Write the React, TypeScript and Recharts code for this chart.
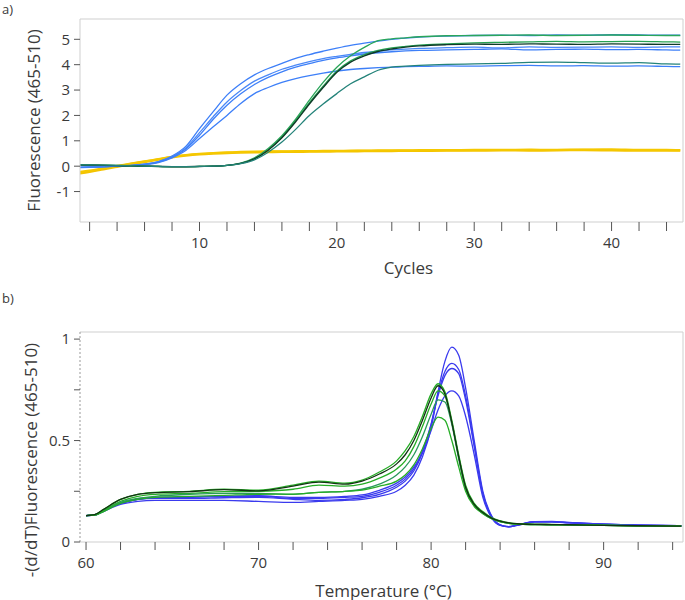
import React from 'react';
import { LineChart, Line, XAxis, YAxis, ReferenceLine } from 'recharts';

// ---------- Panel a: amplification ----------
const cycles = [1, 2, 3, 4, 5, 6, 7, 8, 9, 10, 11, 12, 13, 14, 15, 16, 17, 18, 19, 20, 21, 22, 23, 24, 25, 26, 28, 30, 32, 34, 36, 38, 40, 42, 44, 45];
const ampBlue1 = [-0.06, -0.05, -0.03, 0.0, 0.03, 0.08, 0.18, 0.4, 0.78, 1.48, 2.15, 2.8, 3.25, 3.6, 3.85, 4.05, 4.25, 4.4, 4.53, 4.65, 4.76, 4.85, 4.93, 5.0, 5.05, 5.09, 5.13, 5.15, 5.16, 5.15, 5.17, 5.16, 5.18, 5.17, 5.16, 5.16];
const ampBlue2 = [-0.05, -0.04, -0.02, 0.0, 0.03, 0.08, 0.17, 0.38, 0.72, 1.32, 1.95, 2.53, 2.98, 3.35, 3.6, 3.82, 3.98, 4.12, 4.24, 4.33, 4.41, 4.48, 4.53, 4.58, 4.61, 4.64, 4.67, 4.69, 4.66, 4.7, 4.68, 4.69, 4.7, 4.68, 4.7, 4.7];
const ampBlue3 = [-0.05, -0.04, -0.02, 0.0, 0.02, 0.07, 0.16, 0.36, 0.68, 1.22, 1.85, 2.4, 2.85, 3.22, 3.5, 3.72, 3.9, 4.04, 4.17, 4.27, 4.35, 4.42, 4.47, 4.51, 4.54, 4.56, 4.58, 4.6, 4.62, 4.58, 4.6, 4.61, 4.59, 4.6, 4.58, 4.57];
const ampBlue4 = [-0.04, -0.03, -0.02, 0.0, 0.02, 0.06, 0.14, 0.33, 0.62, 1.09, 1.55, 2.0, 2.47, 2.86, 3.1, 3.3, 3.45, 3.57, 3.67, 3.75, 3.81, 3.85, 3.88, 3.9, 3.92, 3.93, 3.95, 3.94, 3.96, 3.97, 3.95, 3.96, 3.94, 3.95, 3.93, 3.92];
const ampGreen1 = [0.05, 0.05, 0.04, 0.03, 0.02, 0.0, -0.01, -0.02, -0.02, -0.01, 0.0, 0.03, 0.12, 0.33, 0.7, 1.2, 1.85, 2.6, 3.3, 3.9, 4.35, 4.68, 4.95, 5.02, 5.06, 5.1, 5.14, 5.15, 5.16, 5.17, 5.15, 5.16, 5.17, 5.16, 5.15, 5.15];
const ampGreen2 = [0.04, 0.04, 0.03, 0.02, 0.01, 0.0, -0.01, -0.02, -0.02, -0.01, 0.0, 0.03, 0.11, 0.3, 0.65, 1.15, 1.8, 2.5, 3.15, 3.75, 4.15, 4.4, 4.56, 4.66, 4.72, 4.77, 4.82, 4.86, 4.88, 4.9, 4.92, 4.9, 4.91, 4.92, 4.9, 4.89];
const ampDark = [0.04, 0.04, 0.03, 0.02, 0.01, 0.0, -0.01, -0.02, -0.02, -0.01, 0.0, 0.03, 0.11, 0.29, 0.63, 1.12, 1.75, 2.45, 3.1, 3.7, 4.1, 4.35, 4.52, 4.62, 4.69, 4.74, 4.79, 4.81, 4.8, 4.82, 4.81, 4.8, 4.82, 4.81, 4.8, 4.8];
const ampTeal = [0.05, 0.05, 0.04, 0.03, 0.02, 0.0, -0.01, -0.02, -0.02, -0.01, 0.0, 0.03, 0.1, 0.25, 0.55, 0.95, 1.45, 2.0, 2.45, 2.86, 3.25, 3.52, 3.78, 3.9, 3.94, 3.97, 4.01, 4.03, 4.05, 4.09, 4.1, 4.08, 4.06, 4.08, 4.03, 4.02];
const ampYellow1 = [-0.3, -0.22, -0.12, -0.02, 0.08, 0.17, 0.26, 0.35, 0.42, 0.47, 0.5, 0.52, 0.54, 0.55, 0.56, 0.57, 0.57, 0.58, 0.58, 0.59, 0.59, 0.6, 0.6, 0.6, 0.61, 0.61, 0.62, 0.62, 0.63, 0.62, 0.63, 0.64, 0.63, 0.62, 0.62, 0.62];
const ampYellow2 = [-0.24, -0.17, -0.08, 0.01, 0.1, 0.19, 0.28, 0.37, 0.44, 0.49, 0.52, 0.54, 0.56, 0.57, 0.58, 0.58, 0.59, 0.59, 0.6, 0.6, 0.61, 0.61, 0.62, 0.62, 0.62, 0.63, 0.63, 0.64, 0.64, 0.65, 0.64, 0.65, 0.66, 0.64, 0.64, 0.63];
const ampXTicks = [2, 4, 6, 8, 10, 12, 14, 16, 18, 20, 22, 24, 26, 28, 30, 32, 34, 36, 38, 40, 42, 44];
const ampXLabels = [10, 20, 30, 40];
const ampYTicks = [-1, 0, 1, 2, 3, 4, 5];

// ---------- Panel b: melt ----------
const temps = [60, 60.5, 61, 62, 63, 64, 66, 68, 70, 72, 73.5, 75, 76, 77, 78, 78.5, 79, 79.5, 80, 80.4, 80.8, 81.2, 81.6, 82, 82.5, 83, 83.5, 84, 84.5, 85, 86, 87, 88, 90, 92, 94.5];
const meltGreen1 = [0.13, 0.135, 0.16, 0.21, 0.235, 0.245, 0.25, 0.26, 0.255, 0.28, 0.3, 0.29, 0.305, 0.345, 0.4, 0.45, 0.52, 0.62, 0.73, 0.78, 0.74, 0.6, 0.43, 0.28, 0.19, 0.15, 0.12, 0.105, 0.095, 0.09, 0.088, 0.087, 0.085, 0.083, 0.08, 0.078];
const meltBlack = [0.13, 0.135, 0.16, 0.21, 0.235, 0.243, 0.248, 0.258, 0.252, 0.275, 0.295, 0.285, 0.3, 0.335, 0.385, 0.43, 0.5, 0.6, 0.71, 0.77, 0.73, 0.59, 0.42, 0.27, 0.185, 0.145, 0.118, 0.103, 0.094, 0.09, 0.087, 0.086, 0.085, 0.082, 0.08, 0.078];
const meltGreen2 = [0.13, 0.133, 0.155, 0.2, 0.225, 0.235, 0.24, 0.248, 0.25, 0.26, 0.28, 0.275, 0.285, 0.315, 0.36, 0.4, 0.47, 0.57, 0.68, 0.745, 0.72, 0.59, 0.42, 0.27, 0.185, 0.145, 0.118, 0.1, 0.092, 0.088, 0.086, 0.085, 0.084, 0.082, 0.08, 0.078];
const meltGreen3 = [0.13, 0.133, 0.15, 0.195, 0.215, 0.225, 0.235, 0.24, 0.24, 0.235, 0.245, 0.25, 0.26, 0.285, 0.33, 0.37, 0.43, 0.52, 0.63, 0.7, 0.69, 0.58, 0.41, 0.26, 0.18, 0.14, 0.115, 0.1, 0.092, 0.088, 0.086, 0.085, 0.084, 0.082, 0.08, 0.078];
const meltGreen4 = [0.13, 0.132, 0.15, 0.19, 0.21, 0.22, 0.225, 0.23, 0.235, 0.236, 0.245, 0.25, 0.256, 0.275, 0.3, 0.33, 0.38, 0.46, 0.56, 0.615, 0.6, 0.5, 0.37, 0.25, 0.175, 0.14, 0.115, 0.1, 0.092, 0.088, 0.086, 0.085, 0.084, 0.082, 0.08, 0.078];
const meltBlue1 = [0.13, 0.132, 0.15, 0.185, 0.2, 0.205, 0.205, 0.205, 0.2, 0.195, 0.2, 0.205, 0.21, 0.225, 0.25, 0.28, 0.33, 0.42, 0.56, 0.74, 0.89, 0.96, 0.92, 0.76, 0.5, 0.25, 0.13, 0.085, 0.075, 0.082, 0.1, 0.102, 0.096, 0.088, 0.083, 0.08];
const meltBlue2 = [0.13, 0.133, 0.155, 0.19, 0.21, 0.215, 0.215, 0.218, 0.22, 0.21, 0.205, 0.21, 0.218, 0.235, 0.27, 0.3, 0.35, 0.44, 0.58, 0.73, 0.84, 0.88, 0.85, 0.72, 0.48, 0.24, 0.125, 0.083, 0.075, 0.083, 0.1, 0.1, 0.095, 0.088, 0.083, 0.08];
const meltBlue3 = [0.13, 0.133, 0.155, 0.19, 0.21, 0.218, 0.22, 0.225, 0.225, 0.215, 0.215, 0.22, 0.225, 0.245, 0.28, 0.31, 0.36, 0.45, 0.58, 0.72, 0.82, 0.855, 0.83, 0.7, 0.47, 0.235, 0.125, 0.083, 0.076, 0.084, 0.1, 0.1, 0.095, 0.088, 0.083, 0.08];
const meltBlue4 = [0.13, 0.133, 0.155, 0.19, 0.212, 0.22, 0.222, 0.225, 0.228, 0.22, 0.22, 0.225, 0.232, 0.255, 0.29, 0.32, 0.37, 0.44, 0.55, 0.65, 0.72, 0.745, 0.72, 0.62, 0.43, 0.22, 0.12, 0.082, 0.076, 0.084, 0.098, 0.098, 0.094, 0.087, 0.082, 0.08];
const meltXTicks = [60, 62, 64, 66, 68, 70, 72, 74, 76, 78, 80, 82, 84, 86, 88, 90, 92, 94];
const meltXLabels = [60, 70, 80, 90];
const meltYTicks = [0, 0.25, 0.5, 0.75, 1];
const meltYLabels = [0, 0.5, 1];

const FONT = '"Open Sans", "Segoe UI", sans-serif';
const TEXT = '#3a3a3a';
const BOX = '#cfcfcf';

const ampSeries = [
  { key: 'y1', values: ampYellow1, color: '#f3c300', width: 2.6 },
  { key: 'y2', values: ampYellow2, color: '#f5c800', width: 2.2 },
  { key: 'b1', values: ampBlue1, color: '#3d7ff8', width: 1.3 },
  { key: 'b2', values: ampBlue2, color: '#4a88f7', width: 1.3 },
  { key: 'b3', values: ampBlue3, color: '#3d7ff8', width: 1.3 },
  { key: 'b4', values: ampBlue4, color: '#3d7ff8', width: 1.3 },
  { key: 'g1', values: ampGreen1, color: '#2aa65a', width: 1.3 },
  { key: 'g2', values: ampGreen2, color: '#27a352', width: 1.3 },
  { key: 'dk', values: ampDark, color: '#0e3a28', width: 1.4 },
  { key: 'tl', values: ampTeal, color: '#24837a', width: 1.3 },
];

const meltSeries = [
  { key: 'b1', values: meltBlue1, color: '#3a3aee' },
  { key: 'b2', values: meltBlue2, color: '#3a3aee' },
  { key: 'b3', values: meltBlue3, color: '#3a3aee' },
  { key: 'b4', values: meltBlue4, color: '#3a3aee' },
  { key: 'g1', values: meltGreen1, color: '#26ad26' },
  { key: 'g2', values: meltGreen2, color: '#26ad26' },
  { key: 'g3', values: meltGreen3, color: '#2a9a5a' },
  { key: 'g4', values: meltGreen4, color: '#26ad26' },
  { key: 'k', values: meltBlack, color: '#123312' },
];

const ampData = cycles.map((c, i) => {
  const row: any = { c };
  ampSeries.forEach((s) => (row[s.key] = s.values[i]));
  return row;
});
const meltData = temps.map((t, i) => {
  const row: any = { t };
  meltSeries.forEach((s) => (row[s.key] = s.values[i]));
  return row;
});

const yTitle = (text: string, dx: number, dy: number) => (props: any) => {
  const vb = props.viewBox || { x: 0, y: 0, width: 0, height: 0 };
  const cx = vb.x + dx;
  const cy = vb.y + vb.height / 2 + dy;
  return (
    <text x={cx} y={cy} transform={`rotate(-90 ${cx} ${cy})`} textAnchor="middle" dominantBaseline="central" fontSize={17} fill={TEXT} fontFamily={FONT}>
      {text}
    </text>
  );
};
const xTitle = (text: string, dx: number, dy: number) => (props: any) => {
  const vb = props.viewBox || { x: 0, y: 0, width: 0, height: 0 };
  const cx = vb.x + vb.width / 2 + dx;
  const cy = vb.y + dy;
  return (
    <text x={cx} y={cy} textAnchor="middle" dominantBaseline="central" fontSize={17} fill={TEXT} fontFamily={FONT}>
      {text}
    </text>
  );
};

const tickStyle = { fontSize: 15, fill: TEXT, fontFamily: FONT };

export default function App() {
  return (
    <div style={{ position: 'absolute', left: 0, top: 0, width: 685, height: 600, background: '#fff' }}>
      <div style={{ position: 'absolute', left: 0, top: 0 }}>
        <LineChart width={685} height={290} data={ampData} margin={{ top: 19, right: 2, bottom: 0, left: 0 }}>
          <XAxis
            dataKey="c"
            type="number"
            domain={[1.3, 45.2]}
            allowDataOverflow
            ticks={ampXTicks}
            interval={0}
            tickFormatter={(v: number) => (ampXLabels.includes(v) ? String(v) : '')}
            height={68}
            tickSize={9}
            tickMargin={6}
            axisLine={{ stroke: BOX }}
            tickLine={{ stroke: '#555' }}
            tick={tickStyle}
            label={{ content: xTitle('Cycles', 27, 45) }}
          />
          <YAxis
            type="number"
            domain={[-2.2, 5.8]}
            allowDataOverflow
            ticks={ampYTicks}
            interval={0}
            width={80}
            tickSize={6}
            tickMargin={4}
            axisLine={{ stroke: BOX }}
            tickLine={{ stroke: '#555' }}
            tick={tickStyle}
            label={{ content: yTitle('Fluorescence (465-510)', 33, 0) }}
          />
          <ReferenceLine y={5.8} stroke={BOX} />
          <ReferenceLine x={45.2} stroke={BOX} />
          {ampSeries.map((s) => (
            <Line key={s.key} dataKey={s.key} type="monotone" stroke={s.color} strokeWidth={s.width} dot={false} isAnimationActive={false} />
          ))}
        </LineChart>
      </div>
      <div style={{ position: 'absolute', left: 0, top: 290 }}>
        <LineChart width={685} height={310} data={meltData} margin={{ top: 42, right: 2, bottom: 0, left: 0 }}>
          <XAxis
            dataKey="t"
            type="number"
            domain={[59.65, 94.6]}
            ticks={meltXTicks}
            interval={0}
            tickFormatter={(v: number) => (meltXLabels.includes(v) ? String(v) : '')}
            height={58}
            tickSize={8}
            tickMargin={7}
            axisLine={{ stroke: BOX }}
            tickLine={{ stroke: '#555' }}
            tick={tickStyle}
            label={{ content: xTitle('Temperature (°C)', 2, 48) }}
          />
          <YAxis
            type="number"
            domain={[0, 1.035]}
            ticks={meltYTicks}
            interval={0}
            tickFormatter={(v: number) => (meltYLabels.includes(v) ? String(v) : '')}
            width={80}
            tickSize={6}
            tickMargin={4}
            axisLine={{ stroke: '#999', strokeDasharray: '2 2' }}
            tickLine={{ stroke: '#555' }}
            tick={tickStyle}
            label={{ content: yTitle('-(d/dT)Fluorescence (465-510)', 30, 23) }}
          />
          <ReferenceLine y={1.035} stroke={BOX} />
          <ReferenceLine x={94.6} stroke={BOX} />
          {meltSeries.map((s) => (
            <Line key={s.key} dataKey={s.key} type="monotone" stroke={s.color} strokeWidth={1.3} dot={false} isAnimationActive={false} />
          ))}
        </LineChart>
      </div>
      <div style={{ position: 'absolute', left: 2, top: 1, fontFamily: FONT, fontSize: 13, lineHeight: '16px', color: TEXT }}>a)</div>
      <div style={{ position: 'absolute', left: 2, top: 290, fontFamily: FONT, fontSize: 13, lineHeight: '16px', color: TEXT }}>b)</div>
    </div>
  );
}
